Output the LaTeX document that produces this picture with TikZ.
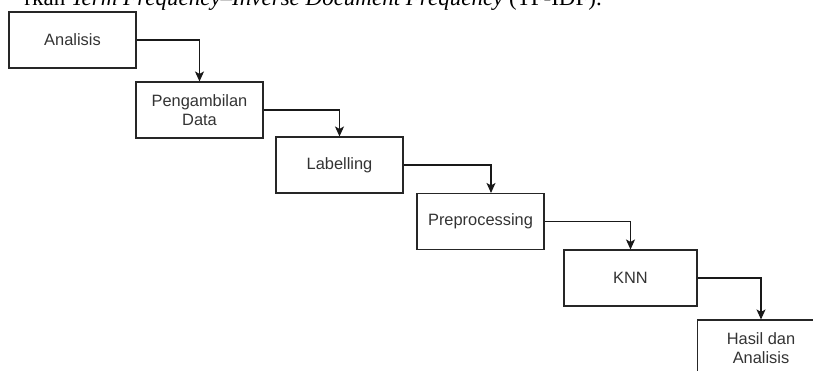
\documentclass[tikz,border=0pt]{standalone}
\usepackage{fontspec}
\setmainfont{Liberation Serif}
\newfontfamily\boxfont{Liberation Sans}
\usetikzlibrary{arrows.meta}
\tikzset{
  stepbox/.style={draw=black!85, line width=1.1pt, minimum width=127pt, minimum height=56pt,
    inner sep=0pt, align=center, text=black!80,
    font=\boxfont\fontsize{16.4}{19.5}\selectfont},
  flow/.style={draw=black!90, line width=1.1pt, -{Stealth[length=10pt,width=9pt,inset=2.5pt]}}
}
\begin{document}
\begin{tikzpicture}[x=1pt,y=1pt]
\useasboundingbox (0,0) rectangle (813,-371);
\clip (0,0) rectangle (813,-371);
\node[anchor=base east, inner sep=0pt, font=\fontsize{23}{26}\selectfont] (cap) at (602,-6)
  {rkan \textit{Term Frequency–Inverse Document Frequency} (TF-IDF).};
\node[stepbox] (b1) at (72.5,-40) {Analisis};
\node[stepbox] (b2) at (199.5,-110) {Pengambilan\\Data};
\node[stepbox] (b3) at (339.5,-165) {Labelling};
\node[stepbox] (b4) at (480.5,-221.5) {Preprocessing};
\node[stepbox, minimum width=133pt] (b5) at (630.5,-278) {KNN};
\node[stepbox] (b6) at (761,-348) {Hasil dan\\Analisis};
\draw[flow] (b1.east) -| (b2.north);
\draw[flow] (b2.east) -| (b3.north);
\draw[flow] (b3.east) -| ([xshift=10.5pt]b4.north);
\draw[flow] (b4.east) -| (b5.north);
\draw[flow] (b5.east) -| (b6.north);
\end{tikzpicture}
\end{document}
